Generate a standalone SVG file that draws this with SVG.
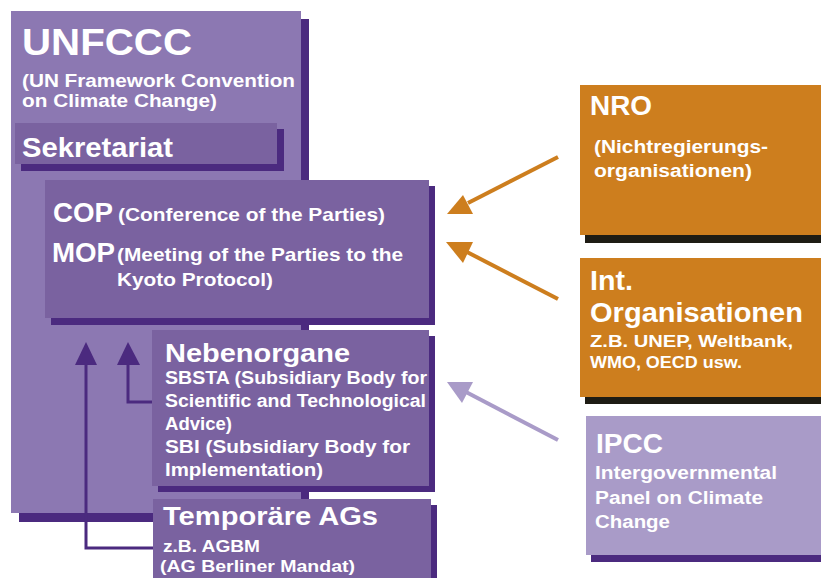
<svg xmlns="http://www.w3.org/2000/svg" width="821" height="578" viewBox="0 0 821 578">
<style>
text{font-family:"Liberation Sans",Arial,sans-serif;font-weight:bold;fill:#fff}
.sh{fill:#4b2a7f}
.body{fill:#7a62a0}
.org{fill:#cd7e1e}
.blk{fill:#1e1c14}
.conn{fill:none;stroke:#4b2a7f;stroke-width:3}
.ah{fill:#4b2a7f}
.oline{stroke:#cd7e1e;stroke-width:4}
.ohead{fill:#cd7e1e}
.lline{stroke:#a99bc8;stroke-width:4}
.lhead{fill:#a99bc8}
</style>
<rect width="821" height="578" fill="#fff"/>
<g id="unfccc">
<rect class="sh" x="19" y="19" width="290" height="503"/>
<rect x="11" y="11" width="290" height="502" fill="#8c78b2"/>
<text x="22" y="55" font-size="36" textLength="170" lengthAdjust="spacingAndGlyphs">UNFCCC</text>
<text x="22" y="87" font-size="18" textLength="273" lengthAdjust="spacingAndGlyphs">(UN Framework Convention</text>
<text x="22" y="107" font-size="18" textLength="195" lengthAdjust="spacingAndGlyphs">on Climate Change)</text>
</g>
<g id="sekretariat">
<rect class="sh" x="21" y="129" width="263" height="42"/>
<rect class="body" x="15" y="123" width="262" height="41"/>
<text x="22" y="157" font-size="27" textLength="151" lengthAdjust="spacingAndGlyphs">Sekretariat</text>
</g>
<g id="cop">
<rect class="sh" x="51" y="186" width="384" height="139"/>
<rect class="body" x="45" y="180" width="384" height="138"/>
<text x="53" y="222" font-size="27" textLength="60" lengthAdjust="spacingAndGlyphs">COP</text>
<text x="118" y="221" font-size="19" textLength="267" lengthAdjust="spacingAndGlyphs">(Conference of the Parties)</text>
<text x="52" y="262" font-size="27" textLength="63" lengthAdjust="spacingAndGlyphs">MOP</text>
<text x="117" y="261" font-size="19" textLength="286" lengthAdjust="spacingAndGlyphs">(Meeting of the Parties to the</text>
<text x="117" y="286" font-size="19" textLength="156" lengthAdjust="spacingAndGlyphs">Kyoto Protocol)</text>
</g>
<g id="nebenorgane">
<rect class="sh" x="158" y="336" width="277" height="156"/>
<rect class="body" x="152" y="330" width="277" height="156"/>
<text x="165" y="362" font-size="26" textLength="185" lengthAdjust="spacingAndGlyphs">Nebenorgane</text>
<text x="165" y="384" font-size="18" textLength="262" lengthAdjust="spacingAndGlyphs">SBSTA (Subsidiary Body for</text>
<text x="165" y="407" font-size="18" textLength="261" lengthAdjust="spacingAndGlyphs">Scientific and Technological</text>
<text x="165" y="430" font-size="18" textLength="67" lengthAdjust="spacingAndGlyphs">Advice)</text>
<text x="165" y="453" font-size="18" textLength="245" lengthAdjust="spacingAndGlyphs">SBI (Subsidiary Body for</text>
<text x="165" y="476" font-size="18" textLength="158" lengthAdjust="spacingAndGlyphs">Implementation)</text>
</g>
<g id="temporaere-ags">
<rect class="sh" x="159" y="505" width="278" height="73"/>
<rect class="body" x="153" y="499" width="278" height="79"/>
<text x="163" y="525" font-size="25" textLength="215" lengthAdjust="spacingAndGlyphs">Temporäre AGs</text>
<text x="163" y="552" font-size="17" textLength="97" lengthAdjust="spacingAndGlyphs">z.B. AGBM</text>
<text x="160" y="572" font-size="17" textLength="195" lengthAdjust="spacingAndGlyphs">(AG Berliner Mandat)</text>
</g>
<g id="nro">
<rect class="blk" x="585" y="90" width="236" height="153"/>
<rect class="org" x="580" y="85" width="241" height="150"/>
<text x="590" y="115" font-size="27" textLength="62" lengthAdjust="spacingAndGlyphs">NRO</text>
<text x="594" y="153" font-size="18" textLength="174" lengthAdjust="spacingAndGlyphs">(Nichtregierungs-</text>
<text x="594" y="177" font-size="18" textLength="158" lengthAdjust="spacingAndGlyphs">organisationen)</text>
</g>
<g id="int-organisationen">
<rect class="blk" x="585" y="263" width="236" height="141"/>
<rect class="org" x="580" y="258" width="241" height="139"/>
<text x="590" y="290" font-size="27" textLength="43" lengthAdjust="spacingAndGlyphs">Int.</text>
<text x="590" y="322" font-size="27" textLength="213" lengthAdjust="spacingAndGlyphs">Organisationen</text>
<text x="590" y="347" font-size="17" textLength="203" lengthAdjust="spacingAndGlyphs">Z.B. UNEP, Weltbank,</text>
<text x="590" y="368" font-size="17" textLength="152" lengthAdjust="spacingAndGlyphs">WMO, OECD usw.</text>
</g>
<g id="ipcc">
<rect class="sh" x="591" y="421" width="230" height="141"/>
<rect x="586" y="416" width="235" height="139" fill="#a99bc8"/>
<text x="596" y="453" font-size="27" textLength="67" lengthAdjust="spacingAndGlyphs">IPCC</text>
<text x="595" y="479" font-size="18" textLength="182" lengthAdjust="spacingAndGlyphs">Intergovernmental</text>
<text x="595" y="504" font-size="18" textLength="168" lengthAdjust="spacingAndGlyphs">Panel on Climate</text>
<text x="595" y="528" font-size="18" textLength="75" lengthAdjust="spacingAndGlyphs">Change</text>
</g>
<g id="connectors">
<polyline class="conn" points="153,548 86,548 86,362"/>
<polygon class="ah" points="86,342 75,365 97,365"/>
<polyline class="conn" points="152,402 128,402 128,362"/>
<polygon class="ah" points="128,342 117,365 140,365"/>
<line class="oline" x1="558" y1="157" x2="468" y2="203"/>
<polygon class="ohead" points="447,214 473,214 463,195"/>
<line class="oline" x1="558" y1="299" x2="467" y2="252"/>
<polygon class="ohead" points="446,242 473,242 463,263"/>
<line class="lline" x1="558" y1="440" x2="466" y2="392"/>
<polygon class="lhead" points="447,382 473,382 462,403"/>
</g>
</svg>
